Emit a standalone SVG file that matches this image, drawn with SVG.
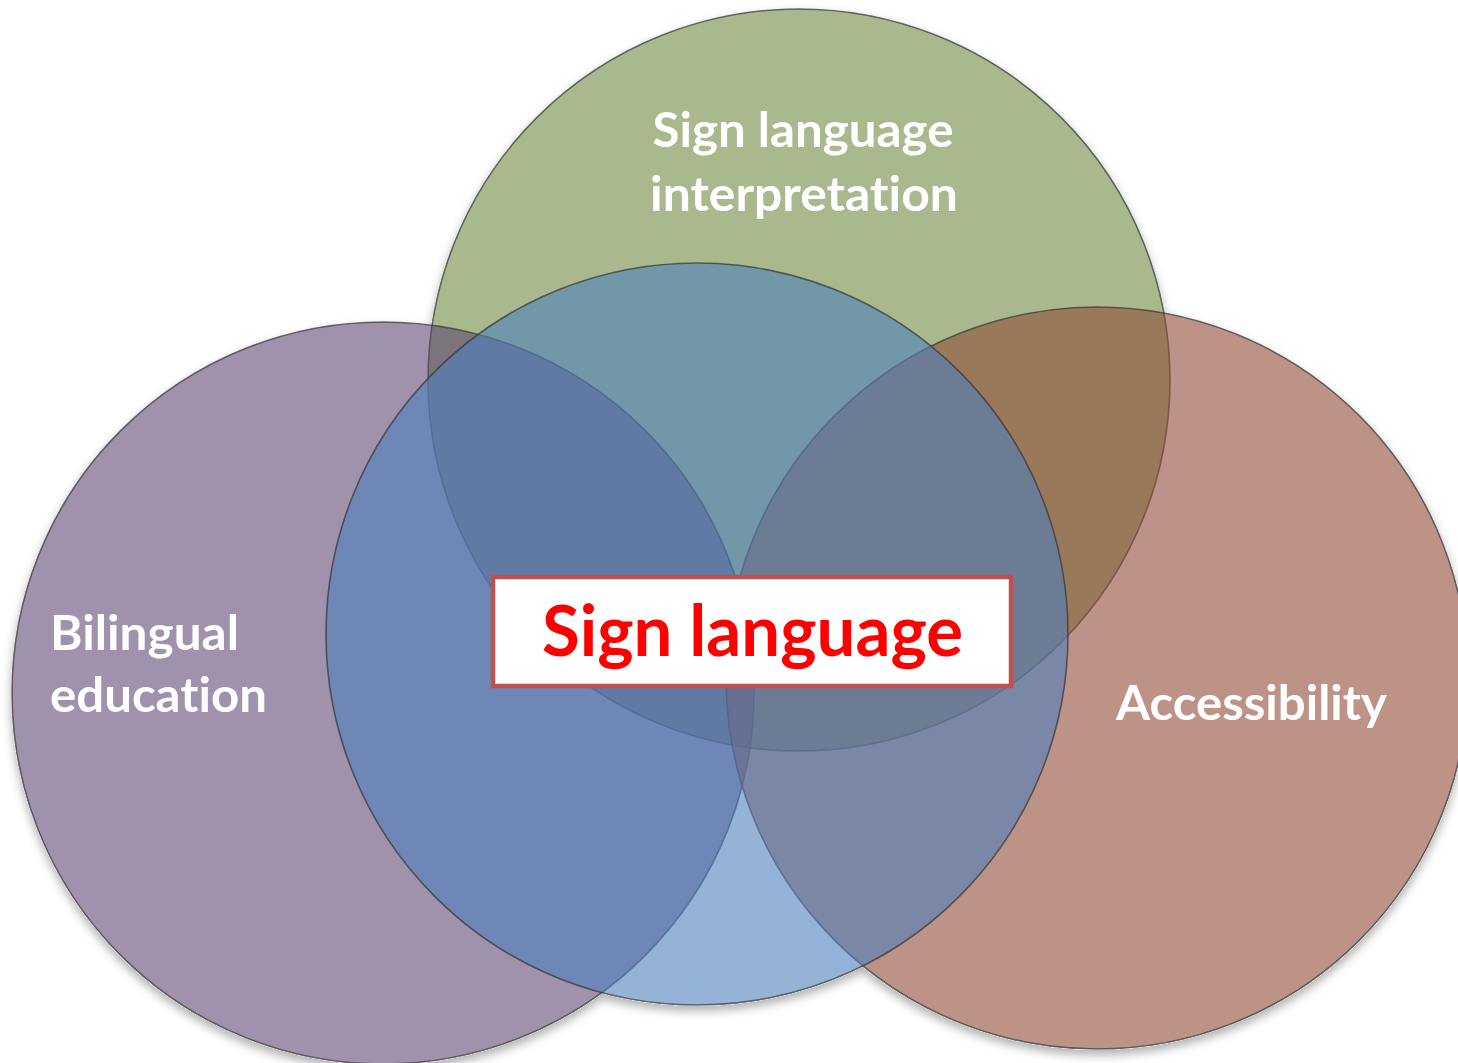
<svg xmlns="http://www.w3.org/2000/svg" width="1458" height="1063" viewBox="0 0 1458 1063">
<defs>
<style>
.c{fill-opacity:0.6;stroke:#3a3a3a;stroke-opacity:0.75;stroke-width:1.6}
.lbl{font-family:Lato,"Open Sans","Liberation Sans",sans-serif;font-weight:bold;fill:#ffffff;font-size:48px;font-variant-ligatures:none;font-feature-settings:"liga" 0,"clig" 0}
.main{font-family:Lato,"Open Sans","Liberation Sans",sans-serif;font-weight:bold;fill:#ff0000;font-size:70px;font-variant-ligatures:none;font-feature-settings:"liga" 0,"clig" 0}
</style>
<filter id="sh" x="-10%" y="-10%" width="120%" height="125%">
<feComponentTransfer in="SourceAlpha" result="solid"><feFuncA type="linear" slope="10"/></feComponentTransfer>
<feGaussianBlur in="solid" stdDeviation="5" result="b"/>
<feOffset in="b" dy="5" result="o"/>
<feFlood flood-color="#000" flood-opacity="0.3"/>
<feComposite in2="o" operator="in" result="s"/>
<feComposite in="s" in2="solid" operator="out" result="s2"/>
<feMerge><feMergeNode in="s2"/><feMergeNode in="SourceGraphic"/></feMerge>
</filter>
</defs>
<rect width="1458" height="1063" fill="#ffffff"/>
<g filter="url(#sh)">
<g id="interpretation">
<circle class="c" cx="799" cy="380" r="371" fill="#708a3f"/>
<text class="lbl" x="803" y="147" text-anchor="middle" textLength="301" lengthAdjust="spacingAndGlyphs">Sign language</text>
<text class="lbl" x="804" y="211" text-anchor="middle" textLength="308" lengthAdjust="spacingAndGlyphs">interpretation</text>
</g>
<g id="bilingual">
<circle class="c" cx="383" cy="693" r="371" fill="#5f4875"/>
<text class="lbl" x="50" y="650" textLength="189" lengthAdjust="spacingAndGlyphs">Bilingual</text>
<text class="lbl" x="50" y="712" textLength="217" lengthAdjust="spacingAndGlyphs">education</text>
</g>
<g id="accessibility">
<circle class="c" cx="1097" cy="678" r="371" fill="#914d39"/>
<text class="lbl" x="1116" y="720" textLength="271" lengthAdjust="spacingAndGlyphs">Accessibility</text>
</g>
<g id="signlanguage-circle">
<circle class="c" cx="697" cy="634" r="371" fill="#4e80bc"/>
</g>
</g>
<g id="sign-language">
<rect x="493" y="577" width="518" height="109" fill="#ffffff" stroke="#c0504d" stroke-width="4.5"/>
<text class="main" x="752.5" y="656" text-anchor="middle" textLength="421" lengthAdjust="spacingAndGlyphs">Sign language</text>
</g>
<g id="connectors"/>
</svg>
